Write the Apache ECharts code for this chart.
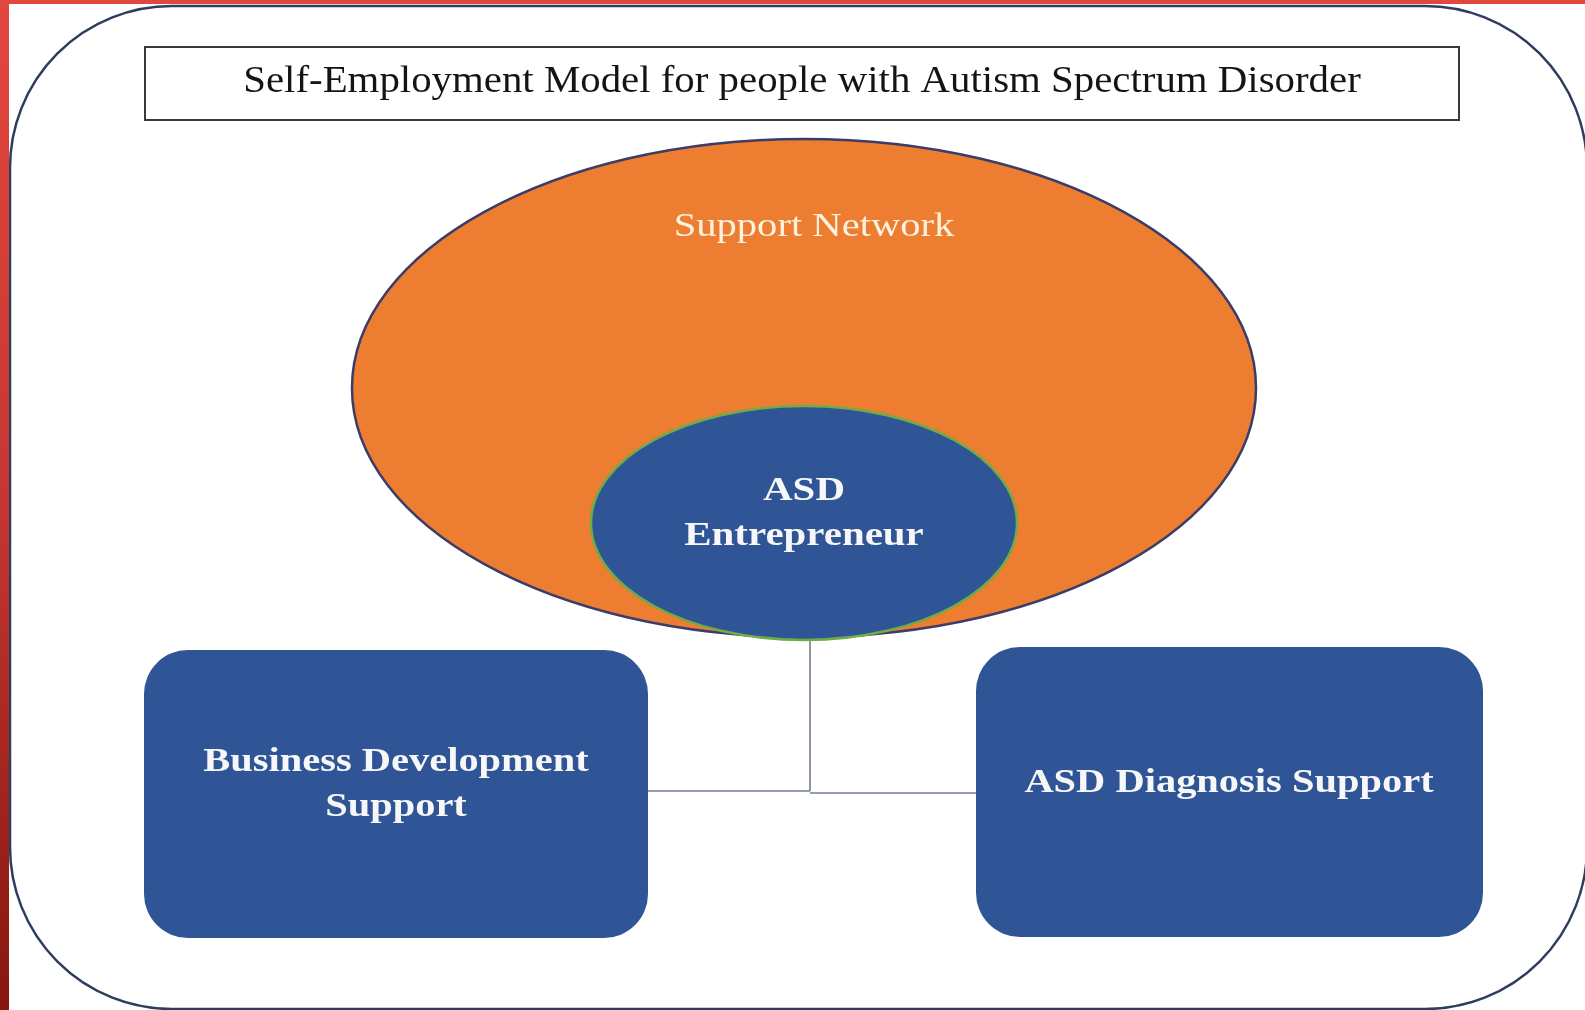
<!DOCTYPE html>
<html><head><meta charset="utf-8">
<script src="https://cdn.jsdelivr.net/npm/echarts@6/dist/echarts.min.js"></script>
<style>html,body{margin:0;padding:0;background:#fff;overflow:hidden}#c{width:1585px;height:1010px}</style>
</head><body><div id="c"></div>
<script>
// ---- diagram content (layout in diagram units, axis 0..1585 x 0..1010) ----
const titleText = 'Self-Employment Model for people with Autism Spectrum Disorder';
const titleBox = [145, 47, 1459, 120];

const ellipseNames = ['Support Network', 'ASD\nEntrepreneur'];
const ellipseCenters = [[804, 388], [804, 523]];
const ellipseRadii = [[452, 249], [213, 117]];
const ellipseLabelAt = [[814, 227], [804, 514]];

const boxNames = ['Business Development\nSupport', 'ASD Diagnosis Support'];
const boxCorners = [[144, 650, 648, 938], [976, 647, 1483, 937]];
const boxLabelAt = [[396, 785], [1229, 783]];

const connectors = [
  [[810, 641], [810, 791]],
  [[648, 791], [810, 791]],
  [[810, 793], [976, 793]]
];

// ---- styles ----
const ORANGE = '#ed7d31', BLUE = '#2f5597';
const ellipseStyle = [
  {fill: ORANGE, stroke: '#3b3c68', lineWidth: 2.5},
  {fill: BLUE, stroke: '#6fab48', lineWidth: 2.5}
];
const ellipseFont = [
  {font: '33px "Liberation Serif"', fill: '#fdf1df', scaleX: 1.23},
  {font: 'bold 33px "Liberation Serif"', fill: '#f7f7f7', scaleX: 1.24}
];
const SERIF = '"Liberation Serif", "Times New Roman", serif';

function txt(p, text, font, fill, scaleX) {
  return {type: 'text', x: p[0], y: p[1], scaleX: scaleX, z2: 10,
    style: {text: text, x: 0, y: 0, font: font, fill: fill, align: 'center',
      verticalAlign: 'middle', lineHeight: 45}};
}

const chart = echarts.init(document.getElementById('c'), null, {renderer: 'canvas'});
chart.setOption({
  animation: false,
  backgroundColor: '#ffffff',
  grid: {left: 0, right: 0, top: 0, bottom: 0},
  xAxis: {type: 'value', min: 0, max: 1585, show: false},
  yAxis: {type: 'value', min: 0, max: 1010, inverse: true, show: false},
  graphic: [
    {type: 'rect', shape: {x: 10, y: 6, width: 1577, height: 1003, r: 162},
      style: {fill: 'none', stroke: '#2e3d5e', lineWidth: 2.5}, z: -1},
    {type: 'rect', shape: {x: 0, y: 0, width: 1585, height: 4},
      style: {fill: '#e0483f'}, z: 0},
    {type: 'rect', shape: {x: 0, y: 0, width: 9, height: 1010},
      style: {fill: {type: 'linear', x: 0, y: 0, x2: 0, y2: 1,
        colorStops: [{offset: 0, color: '#e2473f'}, {offset: 0.5, color: '#c63630'}, {offset: 1, color: '#861610'}]}}, z: 0}
  ],
  series: [
    { // title box
      type: 'custom', coordinateSystem: 'cartesian2d',
      data: [[titleBox[0], titleBox[1], titleBox[2], titleBox[3]]],
      encode: {x: [0, 2], y: [1, 3]},
      renderItem: function (params, api) {
        const a = api.coord([api.value(0), api.value(1)]);
        const b = api.coord([api.value(2), api.value(3)]);
        return {type: 'group', children: [
          {type: 'rect', shape: {x: a[0], y: a[1], width: b[0] - a[0], height: b[1] - a[1]},
            style: {fill: '#ffffff', stroke: '#3a3a3a', lineWidth: 2}},
          txt([(a[0] + b[0]) / 2, (a[1] + b[1]) / 2 - 1], titleText, '38px ' + SERIF, '#141414', 1.075)
        ]};
      }
    },
    { // connectors
      type: 'custom', coordinateSystem: 'cartesian2d',
      data: connectors.map(function (c) { return [c[0][0], c[0][1], c[1][0], c[1][1]]; }),
      encode: {x: [0, 2], y: [1, 3]},
      renderItem: function (params, api) {
        const a = api.coord([api.value(0), api.value(1)]);
        const b = api.coord([api.value(2), api.value(3)]);
        return {type: 'line', shape: {x1: a[0], y1: a[1], x2: b[0], y2: b[1]},
          style: {stroke: '#6f7e90', lineWidth: 1.6}};
      }
    },
    { // ellipses
      type: 'custom', coordinateSystem: 'cartesian2d',
      data: ellipseNames.map(function (n, i) { return [ellipseCenters[i][0], ellipseCenters[i][1], ellipseRadii[i][0], ellipseRadii[i][1]]; }),
      encode: {x: 0, y: 1},
      renderItem: function (params, api) {
        const i = params.dataIndex;
        const c = api.coord([api.value(0), api.value(1)]);
        const s = api.size([api.value(2), api.value(3)]);
        const st = ellipseStyle[i], f = ellipseFont[i];
        return {type: 'group', children: [
          {type: 'ellipse', shape: {cx: c[0], cy: c[1], rx: Math.abs(s[0]), ry: Math.abs(s[1])},
            style: {fill: st.fill, stroke: st.stroke, lineWidth: st.lineWidth}},
          txt(api.coord(ellipseLabelAt[i]), ellipseNames[i], f.font, f.fill, f.scaleX)
        ]};
      }
    },
    { // boxes
      type: 'custom', coordinateSystem: 'cartesian2d',
      data: boxCorners.map(function (b) { return b.slice(); }),
      encode: {x: [0, 2], y: [1, 3]},
      renderItem: function (params, api) {
        const i = params.dataIndex;
        const a = api.coord([api.value(0), api.value(1)]);
        const b = api.coord([api.value(2), api.value(3)]);
        return {type: 'group', children: [
          {type: 'rect', shape: {x: a[0], y: a[1], width: b[0] - a[0], height: b[1] - a[1], r: 44},
            style: {fill: BLUE}},
          txt(api.coord(boxLabelAt[i]), boxNames[i], 'bold 34px ' + SERIF, '#f7f7f7', 1.19)
        ]};
      }
    }
  ]
});
</script>
</body></html>
